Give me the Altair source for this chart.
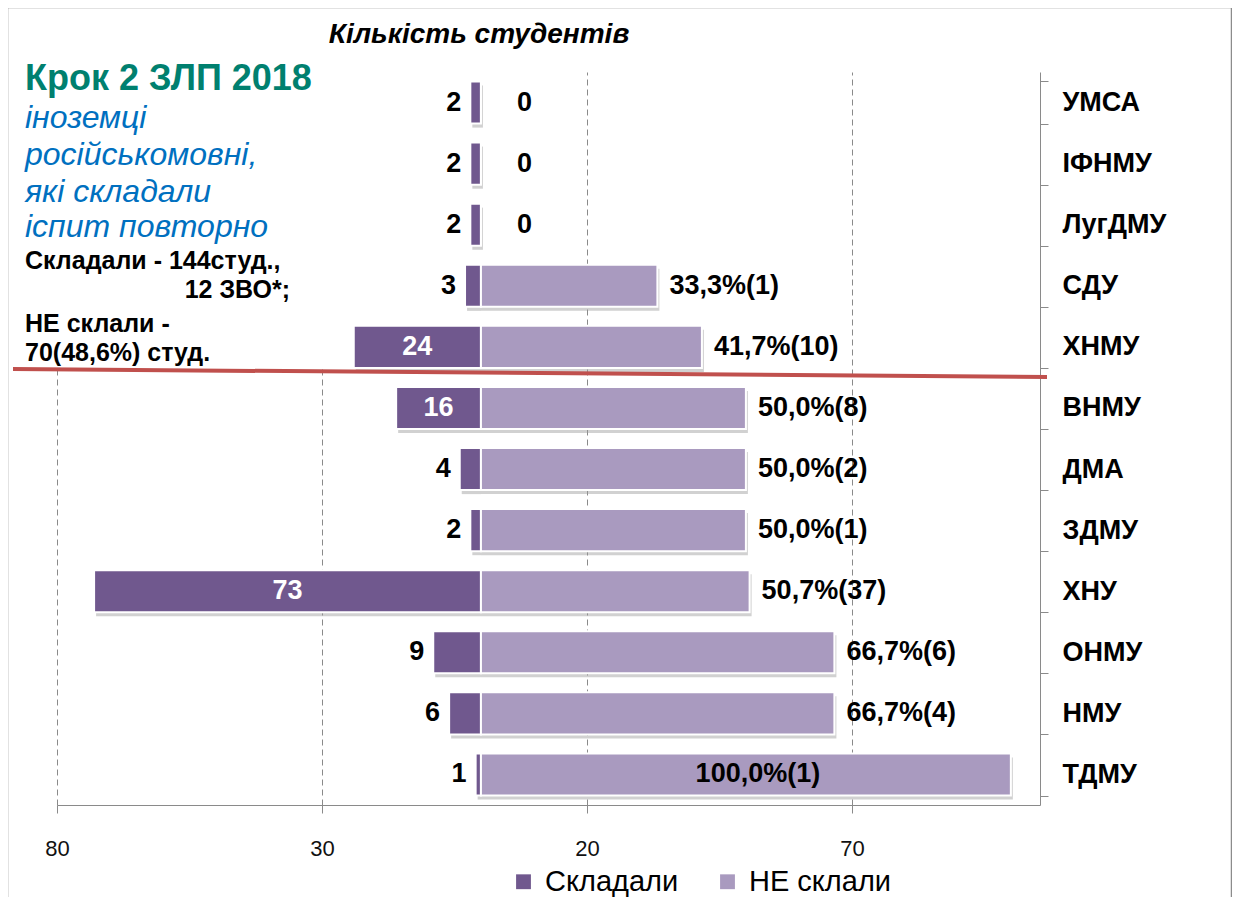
import altair as alt
import pandas as pd

categories = ["УМСА", "ІФНМУ", "ЛугДМУ", "СДУ", "ХНМУ", "ВНМУ", "ДМА", "ЗДМУ", "ХНУ", "ОНМУ", "НМУ", "ТДМУ"]
sat_counts = [2, 2, 2, 3, 24, 16, 4, 2, 73, 9, 6, 1]
fail_pct = [0, 0, 0, 33.3, 41.7, 50.0, 50.0, 50.0, 50.7, 66.7, 66.7, 100.0]
fail_counts = [0, 0, 0, 1, 10, 8, 2, 1, 37, 6, 4, 1]
x_ticks = [-80, -30, 20, 70]
series = ["Складали", "НЕ склали"]
colors = ["#70588E", "#A99ABF"]

rows = []
for c, s, p, n in zip(categories, sat_counts, fail_pct, fail_counts):
    rows.append({"cat": c, "series": series[0], "value": -s, "zero": 0, "label": str(s)})
    lab = "0" if p == 0 else f"{p:.1f}%({n})".replace(".", ",")
    rows.append({"cat": c, "series": series[1], "value": p, "zero": 0, "label": lab})
long = pd.DataFrame(rows)

FONT = "Liberation Sans"
XDOM = [-80, 105.5]

xenc = alt.X("value:Q",
             scale=alt.Scale(domain=XDOM, nice=False, zero=False),
             axis=alt.Axis(values=x_ticks, labelExpr="abs(datum.value)", title=None,
                           grid=True, gridDash=[6, 4], gridColor="#8a8a8a", gridWidth=1,
                           domainColor="#8a8a8a", tickColor="#8a8a8a", tickSize=8,
                           labelFlush=False, labelFontSize=22, labelColor="#111",
                           labelPadding=25))
yenc = alt.Y("cat:N", sort=categories,
             scale=alt.Scale(paddingInner=0.31, paddingOuter=0.155),
             axis=alt.Axis(orient="right", title=None, domainColor="#8a8a8a",
                           tickColor="#8a8a8a", tickSize=8, tickBand="extent",
                           labelFontSize=27, labelFontWeight="bold", labelColor="black",
                           labelPadding=14, labelAlign="left", grid=False))

base = alt.Chart(long)

shadow = base.mark_bar(color="#9a9a9a", opacity=0.45, xOffset=2, yOffset=4).encode(
    x=xenc, x2="zero:Q", y=yenc)


def rect(x1, x2, y1, y2, **kw):
    return alt.Chart(pd.DataFrame({"a": [0]})).mark_rect(**kw).encode(
        x=alt.value(x1), x2=alt.value(x2), y=alt.value(y1), y2=alt.value(y2))


whitebox = rect(-44, 283, -17, 296, color="white")

bars = base.mark_bar(stroke="white", strokeWidth=2).encode(
    x=xenc, x2="zero:Q", y=yenc,
    color=alt.Color("series:N", scale=alt.Scale(domain=series, range=colors),
                    legend=alt.Legend(orient="none", legendX=452, legendY=795,
                                      direction="horizontal", title=None,
                                      symbolType="square", symbolSize=220,
                                      symbolStrokeWidth=0,
                                      labelFontSize=29, labelColor="black",
                                      columnPadding=34, labelOffset=7)))

txt = dict(fontSize=27, fontWeight="bold", baseline="middle")

sat_out = base.transform_filter(
    (alt.datum.series == series[0]) & (alt.datum.value > -10)
).mark_text(align="right", dx=-9, color="black", **txt).encode(x=xenc, y=yenc, text="label:N")

sat_in = base.transform_filter(
    (alt.datum.series == series[0]) & (alt.datum.value <= -10)
).transform_calculate(mid="datum.value/2").mark_text(
    align="center", color="white", **txt).encode(
    x=alt.X("mid:Q", scale=alt.Scale(domain=XDOM, nice=False, zero=False)),
    y=yenc, text="label:N")

fail_zero = base.transform_filter(
    (alt.datum.series == series[1]) & (alt.datum.value == 0)
).mark_text(align="left", dx=36, color="black", **txt).encode(x=xenc, y=yenc, text="label:N")

fail_out = base.transform_filter(
    (alt.datum.series == series[1]) & (alt.datum.value > 0) & (alt.datum.value < 100)
).mark_text(align="left", dx=12, color="black", **txt).encode(x=xenc, y=yenc, text="label:N")

fail_in = base.transform_filter(
    (alt.datum.series == series[1]) & (alt.datum.value >= 100)
).transform_calculate(mid="datum.value/2").mark_text(
    align="center", dx=12, color="black", **txt).encode(
    x=alt.X("mid:Q", scale=alt.Scale(domain=XDOM, nice=False, zero=False)),
    y=yenc, text="label:N")

red_line = alt.Chart(pd.DataFrame({"a": [0]})).mark_rule(
    color="#C0504D", strokeWidth=4).encode(
    x=alt.value(-44), x2=alt.value(990), y=alt.value(297), y2=alt.value(305))


def note(text, x, y, size, color="black", weight="bold", style="normal", align="left"):
    return alt.Chart(pd.DataFrame({"t": [text]})).mark_text(
        align=align, baseline="alphabetic", fontSize=size, fontWeight=weight,
        fontStyle=style, color=color).encode(
        x=alt.value(x), y=alt.value(y), text="t:N")


blue = "#0070C0"
notes = [
    note("Кількість студентів", 422, -29, 28, style="italic", align="center"),
    note("Крок 2 ЗЛП 2018", -32, 18, 36, color="#00806F"),
    note("іноземці", -32, 56, 32, color=blue, weight="normal", style="italic"),
    note("російськомовні,", -32, 93, 32, color=blue, weight="normal", style="italic"),
    note("які складали", -32, 130, 32, color=blue, weight="normal", style="italic"),
    note("іспит повторно", -32, 165, 32, color=blue, weight="normal", style="italic"),
    note("Складали - 144студ.,", -32, 197, 25),
    note("12 ЗВО*;", 233, 226, 25, align="right"),
    note("НЕ склали -", -32, 260, 25),
    note("70(48,6%) студ.", -32, 289, 25),
]

frame = rect(-50, 1175, -65, 860, fillOpacity=0, stroke="#8c8c8c", strokeWidth=2.5)

chart = alt.layer(
    shadow, whitebox, bars, sat_out, sat_in, fail_zero, fail_out, fail_in,
    red_line, *notes, frame
).properties(
    width=983, height=733,
    autosize=alt.AutoSizeParams(type="none"),
    padding={"left": 49, "top": 64, "right": 192, "bottom": 92},
    background="white",
).configure(font=FONT).configure_view(strokeWidth=0)

chart.save("out.html", embed_options={"renderer": "svg", "actions": False})
